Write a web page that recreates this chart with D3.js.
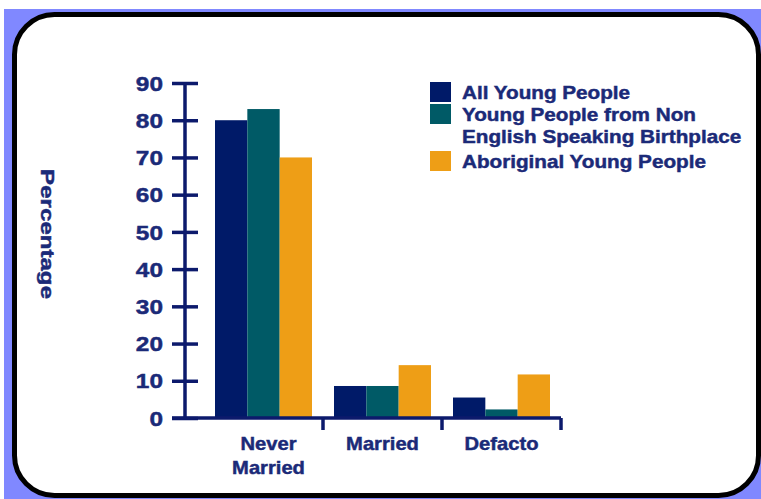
<!DOCTYPE html>
<html>
<head>
    <meta charset="utf-8">
    <title>Marital Status of Young People</title>
    <script src="https://cdnjs.cloudflare.com/ajax/libs/d3/7.8.5/d3.min.js"></script>
    <style>
        body { margin: 0; background: #fff; }
        text { font-family: "Liberation Sans", Arial, sans-serif; font-weight: bold; fill: #1b2a78;
               stroke: #1b2a78; stroke-width: 0.45px; }
    </style>
</head>

<body>

<script type="text/javascript">
    var categories = [["Never", "Married"], ["Married"], ["Defacto"]];
    var categoryKeys = ["Never Married", "Married", "Defacto"];
    var seriesNames = ["All Young People",
                       "Young People from Non\nEnglish Speaking Birthplace",
                       "Aboriginal Young People"];
    var allYoung = [80, 8.6, 5.5];
    var nesbYoung = [83, 8.6, 2.3];
    var aboriginalYoung = [70, 14.2, 11.7];
    var yTicks = [0, 10, 20, 30, 40, 50, 60, 70, 80, 90];
    var colors = ["#001a68", "#005a66", "#ee9e16"];

    var width = 761, height = 499,
        axisColor = "#0c1a6c";

    var svg = d3.select("body").append("svg")
        .attr("width", width)
        .attr("height", height);

    // backdrop + rounded frame
    svg.append("rect")
        .attr("x", 4).attr("y", 9)
        .attr("width", width - 4).attr("height", height - 9)
        .attr("fill", "#8088ff");
    svg.append("rect")
        .attr("x", 14.5).attr("y", 14.5)
        .attr("width", 744).attr("height", 481)
        .attr("rx", 40).attr("ry", 40)
        .attr("fill", "#fff")
        .attr("stroke", "#000")
        .attr("stroke-width", 5);

    // stretch text horizontally like the source gif
    function stretch(sel, k) {
        sel.attr("transform", function () {
            var x = +d3.select(this).attr("x"), y = +d3.select(this).attr("y");
            return "translate(" + x + "," + y + ") scale(" + k + ",1) translate(" + (-x) + "," + (-y) + ")";
        });
    }

    var yScale = d3.scaleLinear()
        .domain([0, 90])
        .range([418, 83]);

    var x0 = d3.scaleBand()
        .domain(categoryKeys)
        .range([204, 561]);

    var x1 = d3.scaleBand()
        .domain([0, 1, 2])
        .range([11, 108]);

    var table = categoryKeys.map(function (c, i) {
        return { key: c, values: [allYoung[i], nesbYoung[i], aboriginalYoung[i]] };
    });

    // bars
    var groups = svg.selectAll("g.cat")
        .data(table)
        .enter().append("g")
        .attr("class", "cat")
        .attr("transform", function (d) { return "translate(" + x0(d.key) + ",0)"; });

    groups.selectAll("rect")
        .data(function (d) { return d.values; })
        .enter().append("rect")
        .attr("x", function (d, i) { return x1(i); })
        .attr("width", x1.bandwidth())
        .attr("y", function (d) { return yScale(d); })
        .attr("height", function (d) { return yScale(0) - yScale(d); })
        .attr("fill", function (d, i) { return colors[i]; });

    // y axis
    var axisX = 185;
    var yAxis = d3.axisLeft(yScale)
        .tickValues(yTicks)
        .tickSize(0)
        .tickPadding(23);

    var gy = svg.append("g")
        .attr("transform", "translate(" + axisX + ",0)")
        .call(yAxis);
    gy.select(".domain").remove();
    gy.selectAll(".tick text")
        .attr("font-size", 20)
        .attr("font-family", null)
        .attr("fill", "#1b2a78")
        .attr("dy", "0.36em")
        .attr("transform", "scale(1.22,1)")
        .attr("x", -22 / 1.22);
    gy.selectAll(".tick").append("line")
        .attr("x1", -13).attr("x2", 13)
        .attr("stroke", axisColor)
        .attr("stroke-width", 3.5);
    gy.append("line")
        .attr("y1", yScale(90)).attr("y2", yScale(0))
        .attr("stroke", axisColor)
        .attr("stroke-width", 3.5);

    // x axis
    var xAxisY = yScale(0);
    svg.append("line")
        .attr("x1", axisX - 13).attr("x2", x0.range()[1])
        .attr("y1", xAxisY).attr("y2", xAxisY)
        .attr("stroke", axisColor)
        .attr("stroke-width", 3.5);
    svg.selectAll("line.xtick")
        .data(categoryKeys)
        .enter().append("line")
        .attr("class", "xtick")
        .attr("x1", function (d) { return x0(d) + x0.bandwidth(); })
        .attr("x2", function (d) { return x0(d) + x0.bandwidth(); })
        .attr("y1", xAxisY).attr("y2", xAxisY + 12)
        .attr("stroke", axisColor)
        .attr("stroke-width", 3.5);

    var labelNudge = [5, 0, 0];
    categories.forEach(function (lines, i) {
        var cx = x0(categoryKeys[i]) + (x1.range()[0] + x1.range()[1]) / 2 + labelNudge[i];
        lines.forEach(function (l, j) {
            svg.append("text")
                .attr("x", cx)
                .attr("y", 450 + j * 24)
                .attr("text-anchor", "middle")
                .attr("font-size", 18)
                .text(l)
                .call(stretch, 1.12);
        });
    });

    // y label
    svg.append("text")
        .attr("transform", "translate(41,234) rotate(90) scale(1.34,1)")
        .attr("text-anchor", "middle")
        .attr("font-size", 18)
        .text("Percentage");

    // legend
    var legendRows = [
        { color: 0, lines: ["All Young People"], y: 82 },
        { color: 1, lines: seriesNames[1].split("\n"), y: 104 },
        { color: 2, lines: [seriesNames[2]], y: 151 }
    ];
    var legend = svg.append("g");
    legendRows.forEach(function (r) {
        legend.append("rect")
            .attr("x", 430).attr("y", r.y)
            .attr("width", 21).attr("height", 20)
            .attr("fill", colors[r.color]);
        r.lines.forEach(function (l, j) {
            legend.append("text")
                .attr("x", 462)
                .attr("y", r.y + 17 + j * 22.5)
                .attr("font-size", 18)
                .text(l)
                .call(stretch, 1.15);
        });
    });
</script>

</body>

</html>
